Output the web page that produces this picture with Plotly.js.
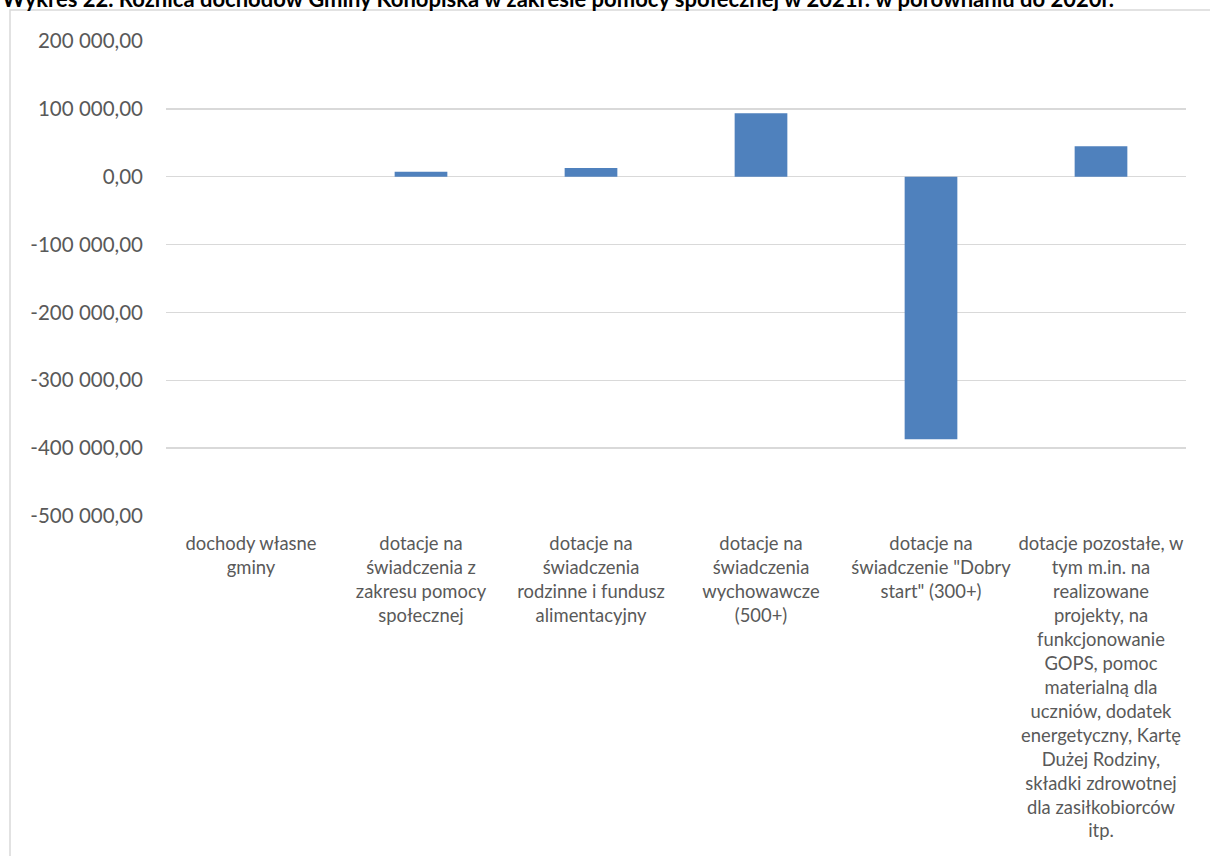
<!DOCTYPE html>
<html>
<head>
<meta charset="utf-8">
<script src="https://cdn.plot.ly/plotly-3.0.1.min.js"></script>
<style>html,body{margin:0;padding:0;background:#fff;}#chart{width:1210px;height:856px;}</style>
</head>
<body>
<div id="chart"></div>
<script>
const categories = [
  "dochody własne gminy",
  "dotacje na świadczenia z zakresu pomocy społecznej",
  "dotacje na świadczenia rodzinne i fundusz alimentacyjny",
  "dotacje na świadczenia wychowawcze (500+)",
  "dotacje na świadczenie \"Dobry start\" (300+)",
  "dotacje pozostałe, w tym m.in. na realizowane projekty, na funkcjonowanie GOPS, pomoc materialną dla uczniów, dodatek energetyczny, Kartę Dużej Rodziny, składki zdrowotnej dla zasiłkobiorców itp."
];
const categoryLabels = [
  "dochody własne<br>gminy",
  "dotacje na<br>świadczenia z<br>zakresu pomocy<br>społecznej",
  "dotacje na<br>świadczenia<br>rodzinne i fundusz<br>alimentacyjny",
  "dotacje na<br>świadczenia<br>wychowawcze<br>(500+)",
  "dotacje na<br>świadczenie \"Dobry<br>start\" (300+)",
  "dotacje pozostałe, w<br>tym m.in. na<br>realizowane<br>projekty, na<br>funkcjonowanie<br>GOPS, pomoc<br>materialną dla<br>uczniów, dodatek<br>energetyczny, Kartę<br>Dużej Rodziny,<br>składki zdrowotnej<br>dla zasiłkobiorców<br>itp."
];
const differences = [0, 7300, 12700, 93500, -386800, 45000];
const yTickValues = [200000, 100000, 0, -100000, -200000, -300000, -400000, -500000];
const yTickLabels = ["200 000,00", "100 000,00", "0,00", "-100 000,00", "-200 000,00", "-300 000,00", "-400 000,00", "-500 000,00"];
const chartTitle = "Wykres 22. Różnica dochodów Gminy Konopiska w zakresie pomocy społecznej w 2021r. w porównaniu do 2020r.";

const L = 166, R = 24, T = 41, B = 340;
const plotW = 1210 - L - R, plotH = 856 - T - B;
const px2x = p => (p - L) / plotW;
const py2y = p => (856 - B - p) / plotH;

const trace = {
  type: 'bar',
  x: categories,
  y: differences,
  marker: {color: '#4f81bd', line: {width: 0}},
  hoverinfo: 'none'
};

const layout = {
  width: 1210, height: 856,
  margin: {l: L, r: R, t: T, b: B, pad: 0},
  paper_bgcolor: '#ffffff', plot_bgcolor: '#ffffff',
  showlegend: false,
  bargap: 0.69,
  font: {family: 'Lato, "Open Sans", sans-serif', color: '#595959'},
  xaxis: {
    type: 'category',
    tickmode: 'array', tickvals: categories, ticktext: categoryLabels,
    tickangle: 0,
    showgrid: false, zeroline: false, showline: false, ticks: '',
    ticklabelstandoff: 15,
    tickfont: {size: 18.4, color: '#595959', family: 'Lato, sans-serif'},
    automargin: false
  },
  yaxis: {
    range: [-500000, 200000],
    tickmode: 'array', tickvals: yTickValues, ticktext: yTickLabels,
    showgrid: true, gridcolor: '#d9d9d9', gridwidth: 1.5,
    zeroline: true, zerolinecolor: '#d9d9d9', zerolinewidth: 1.5,
    showline: false, ticks: '',
    ticklabelstandoff: 22,
    tickfont: {size: 20.5, color: '#595959', family: 'Lato, sans-serif'},
    automargin: false, fixedrange: true
  },
  shapes: [{
    type: 'rect', xref: 'paper', yref: 'paper',
    x0: px2x(10), x1: px2x(1230), y0: py2y(10), y1: py2y(900),
    line: {color: '#d9d9d9', width: 1.5}, fillcolor: 'rgba(0,0,0,0)', layer: 'below'
  }],
  annotations: [{
    xref: 'paper', yref: 'paper',
    x: px2x(0), y: py2y(-1),
    xanchor: 'left', yanchor: 'middle',
    text: '<b>' + chartTitle + '</b>',
    showarrow: false,
    font: {size: 22, color: '#000000', family: 'Lato, sans-serif'}
  }]
};

Plotly.newPlot('chart', [trace], layout, {staticPlot: true, displayModeBar: false});
</script>
</body>
</html>
